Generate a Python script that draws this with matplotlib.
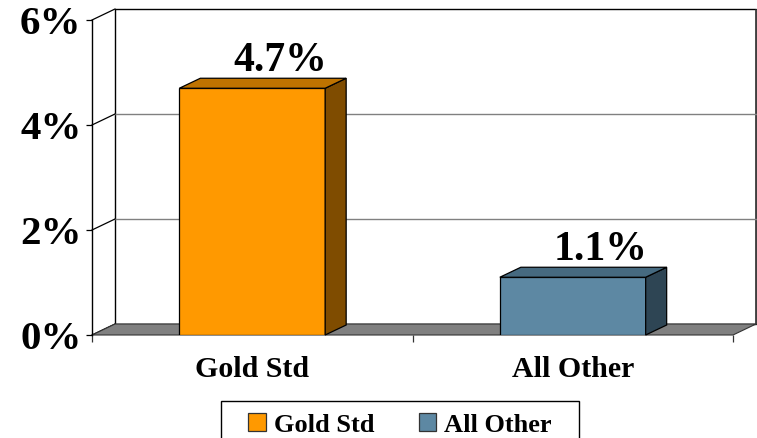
import matplotlib
matplotlib.use("Agg")
import matplotlib.pyplot as plt
from matplotlib.patches import Polygon, Rectangle, Patch
import numpy as np

# ---- data ----
categories = ["Gold Std", "All Other"]
values = [4.7, 1.1]
value_labels = ["4.7%", "1.1%"]
yticks = [0, 2, 4, 6]
ytick_labels = ["0%", "2%", "4%", "6%"]

# ---- styles ----
front_colors = ["#FF9900", "#5D88A3"]
top_colors = ["#BF7300", "#466A80"]
side_colors = ["#7F4C00", "#2E4554"]
FONT = "Liberation Serif"

W, H = 757, 438
fig = plt.figure(figsize=(W / 100, H / 100), dpi=100)
# front plane of the 3D box
x0, x1 = 92, 733
y0, y1 = 335, 20
ax = fig.add_axes([x0 / W, 1 - y0 / H, (x1 - x0) / W, (y0 - y1) / H])
ax.set_xlim(-0.5, 1.5)
ax.set_ylim(0, 6)
ax.patch.set_visible(False)

# depth offsets in data units (wall/floor and bars)
WDX, WDY = 23 / 320.5, 11 / 52.5
BDX, BDY = 21 / 320.5, 10 / 52.5
BAR_W = 0.455

xl, xr = ax.get_xlim()
yb, yt = ax.get_ylim()

# back wall
wall = Polygon([(xl + WDX, yb + WDY), (xr + WDX, yb + WDY), (xr + WDX, yt + WDY), (xl + WDX, yt + WDY)],
               closed=True, facecolor="white", edgecolor="black", lw=1.0, clip_on=False, zorder=1)
ax.add_patch(wall)
ax.plot([xr + WDX, xr + WDX], [yb + WDY, yt + WDY], color="#404040", lw=2.0, clip_on=False, zorder=1.1,
        solid_capstyle="butt")

# gridlines on back wall and side connectors
for t in yticks:
    if 0 < t < 6:
        ax.plot([xl + WDX, xr + WDX], [t + WDY, t + WDY], color="#808080", lw=1.0, clip_on=False, zorder=1.2)
    ax.plot([xl, xl + WDX], [t, t + WDY], color="black", lw=0.9, clip_on=False, zorder=1.3)

# floor
floor = Polygon([(xl, yb), (xr, yb), (xr + WDX, yb + WDY), (xl + WDX, yb + WDY)], closed=True,
                facecolor="#808080", edgecolor="#333333", lw=0.8, clip_on=False, zorder=2)
ax.add_patch(floor)

# bars
xpos = np.arange(len(categories))
bars = ax.bar(xpos, values, width=BAR_W, color=front_colors, edgecolor="black", linewidth=0.9, zorder=3)
for i, (b, v) in enumerate(zip(bars, values)):
    bl = b.get_x()
    br = bl + b.get_width()
    side = Polygon([(br, 0), (br, v), (br + BDX, v + BDY), (br + BDX, BDY)], closed=True,
                   facecolor=side_colors[i], edgecolor="black", lw=0.9, zorder=3, clip_on=False)
    top = Polygon([(bl, v), (br, v), (br + BDX, v + BDY), (bl + BDX, v + BDY)], closed=True,
                  facecolor=top_colors[i], edgecolor="black", lw=0.9, zorder=3, clip_on=False)
    ax.add_patch(side)
    ax.add_patch(top)
    ax.annotate(value_labels[i], xy=(xpos[i], v), xytext=(28 * 0.72, 17 * 0.72), textcoords="offset points",
                ha="center", va="baseline", fontsize=30, fontweight="bold", family=FONT, zorder=5,
                annotation_clip=False)

# axes / ticks
for s in ["top", "right", "bottom"]:
    ax.spines[s].set_visible(False)
ax.spines["left"].set_color("black")
ax.spines["left"].set_linewidth(1.0)
ax.spines["left"].set_zorder(4)
ax.set_yticks(yticks)
ax.set_yticklabels(ytick_labels, fontsize=29.5, fontweight="bold", family=FONT)
ax.tick_params(axis="y", length=4, width=0.9, pad=3.5, color="black")
ax.set_xticks(xpos)
ax.set_xticklabels(categories, fontsize=21.5, fontweight="bold", family=FONT)
ax.tick_params(axis="x", which="major", length=0, pad=15)
ax.set_xticks([-0.5, 0.5, 1.5], minor=True)
ax.tick_params(axis="x", which="minor", length=5, width=0.9, color="#333333")

# legend
handles = [Patch(facecolor=c, edgecolor="#333333", lw=0.9) for c in front_colors]
leg = fig.legend(handles, categories, loc="upper center", bbox_to_anchor=(400 / W, 1 - 395 / H), ncol=2,
                 frameon=False, prop={"family": FONT, "weight": "bold", "size": 19},
                 handlelength=0.66, handleheight=0.66, handletextpad=0.3, columnspacing=1.7, borderpad=0.2)
fig.patches.append(Rectangle((221 / W, -0.01), (579 - 221) / W, 0.01 + 1 - 401 / H, transform=fig.transFigure,
                             facecolor="white", edgecolor="black", lw=1.0, zorder=0))

fig.savefig("out.png", dpi=100)
